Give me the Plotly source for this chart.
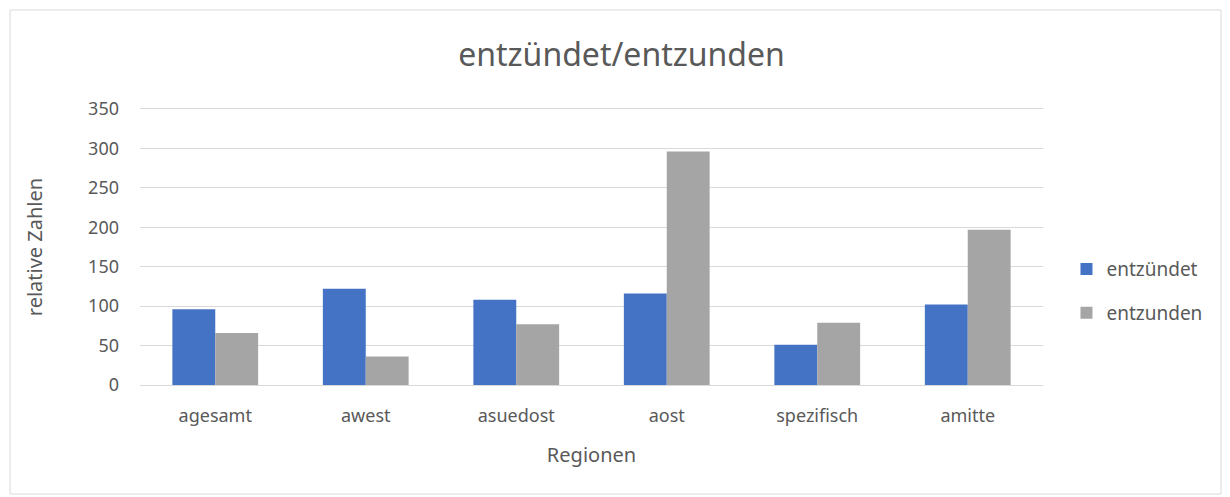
import plotly.graph_objects as go

categories = ["agesamt", "awest", "asuedost", "aost", "spezifisch", "amitte"]
entzuendet = [96, 122, 108, 116, 51, 102]
entzunden = [66, 36, 77, 296, 79, 197]
y_ticks = [0, 50, 100, 150, 200, 250, 300, 350]

FONT = "Noto Sans"
TXT = "#595959"
GRID = "#d9d9d9"

fig = go.Figure()
fig.add_trace(go.Bar(x=categories, y=entzuendet, name="entzündet", legendgroup="a",
                     marker=dict(color="#4472C4", line=dict(width=0))))
fig.add_trace(go.Bar(x=categories, y=entzunden, name="entzunden", legendgroup="b",
                     marker=dict(color="#A5A5A5", line=dict(width=0))))

# page body has an 8px margin, so the figure is laid out 8px smaller
fig.update_layout(
    width=1222, height=489,
    margin=dict(l=132, r=187, t=101, b=112),
    paper_bgcolor="white", plot_bgcolor="white",
    barmode="group", bargap=0.43, bargroupgap=0,
    title=dict(text="entzündet/entzunden", x=613.5 / 1222, xanchor="center", xref="container",
               y=1 - 47 / 489, yanchor="middle",
               font=dict(family=FONT, size=32, color=TXT)),
    font=dict(family=FONT, color=TXT, size=17),
    legend=dict(x=1.026, y=0.34, xanchor="left", yanchor="middle",
                font=dict(family=FONT, size=19, color=TXT),
                itemwidth=30, tracegroupgap=16, traceorder="grouped"),
    xaxis=dict(title=dict(text="Regionen", font=dict(family=FONT, size=20, color=TXT), standoff=22),
               tickfont=dict(family=FONT, size=18, color=TXT), ticklabelstandoff=14,
               showline=True, mirror=True, linecolor=GRID, linewidth=1, ticks="", showgrid=False),
    yaxis=dict(title=dict(text="relative Zahlen", font=dict(family=FONT, size=20, color=TXT), standoff=40),
               tickfont=dict(family=FONT, size=18, color=TXT),
               range=[0, 350], tickvals=y_ticks, showgrid=True, gridcolor=GRID,
               gridwidth=1, zeroline=False, ticks="", ticklabelstandoff=20),
    shapes=[dict(type="rect", xref="paper", yref="paper",
                 x0=-130 / 903, x1=1081 / 903, y0=-109 / 276, y1=375 / 276,
                 line=dict(color=GRID, width=1), fillcolor="rgba(0,0,0,0)", layer="below")],
)

fig.write_html("out.html")
